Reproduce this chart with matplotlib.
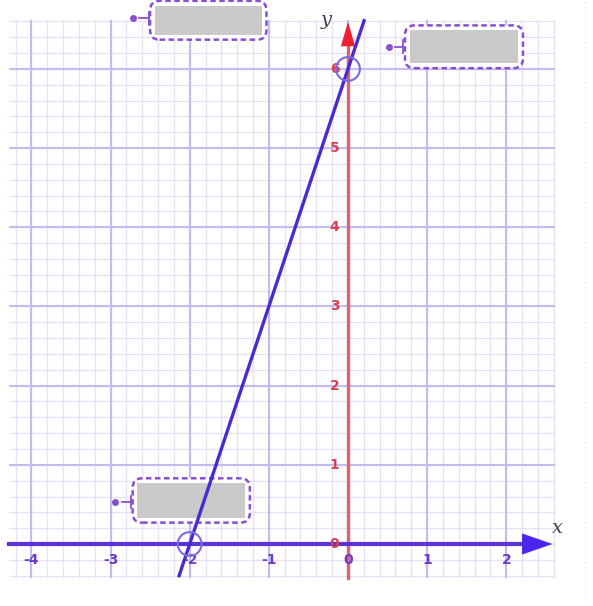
import matplotlib.pyplot as plt
import numpy as np
from matplotlib.patches import FancyBboxPatch, Rectangle, Circle

# data
x_ticks = [-4, -3, -2, -1, 0, 1, 2]
y_ticks = [0, 1, 2, 3, 4, 5, 6]
line_x = [-2.14, 0.21]
line_y = [-0.42, 6.63]
marked_x = [-2, 0]
marked_y = [0, 6]
# hidden answer boxes: (x0, y0, x1, y1)
boxes = [(-2.44, 6.43, -1.09, 6.80), (0.78, 6.07, 2.15, 6.49), (-2.66, 0.33, -1.30, 0.77)]
dots = [(-2.72, 6.64), (0.52, 6.28), (-2.94, 0.53)]

grid_x = (-4.28, 2.62)
grid_y = (-0.43, 6.62)

fig = plt.figure(figsize=(5.93, 6.06), dpi=100)
ax = fig.add_axes([0, 0, 1, 1])
ax.set_xlim(-4.396, 3.095)
ax.set_ylim(-0.783, 6.871)
ax.axis('off')

# grid
minor_x = np.arange(-4.2, 2.61, 0.2)
minor_y = np.arange(-0.4, 6.61, 0.2)
ax.vlines(minor_x, grid_y[0], grid_y[1], color='#e6e2f6', lw=1.0, zorder=1)
ax.hlines(minor_y, grid_x[0], grid_x[1], color='#e6e2f6', lw=1.0, zorder=1)
ax.vlines(x_ticks, grid_y[0], grid_y[1], color='#c4bcee', lw=1.5, zorder=2)
ax.hlines(y_ticks[1:], grid_x[0], grid_x[1], color='#c4bcee', lw=1.5, zorder=2)

# page edge
ax.vlines(3.0, -0.75, 6.85, color='#dddddd', lw=0.8, ls=(0, (1, 3)), zorder=1)

# axes
ax.plot([0, 0], [grid_y[0], 6.4], color='#e5606e', lw=2.4, zorder=4)
ax.annotate('', xy=(0, 6.63), xytext=(0, 6.2),
            arrowprops=dict(arrowstyle='-|>,head_width=0.32,head_length=1.1', color='#ee2030',
                            lw=0, mutation_scale=16), zorder=5)
ax.plot([grid_x[0], 2.4], [0, 0], color='#5a34d8', lw=3, zorder=4)
ax.annotate('', xy=(2.62, 0), xytext=(2.2, 0),
            arrowprops=dict(arrowstyle='-|>,head_width=0.38,head_length=1.1', color='#4a26ee',
                            lw=0, mutation_scale=20), zorder=5)
ax.text(2.64, 0.2, 'x', fontsize=14, family='DejaVu Serif', style='italic', color='#444444', ha='center', va='center')
ax.text(-0.27, 6.62, 'y', fontsize=14, family='DejaVu Serif', style='italic', color='#444444', ha='center', va='center')

# tick labels
for t in x_ticks:
    ax.text(t, -0.2, str(t), fontsize=10, fontweight='bold', color='#6a3cc8', ha='center', va='center', zorder=6)
for t in y_ticks:
    ax.text(-0.17, t, str(t), fontsize=10, fontweight='bold', color='#d8404e', ha='center', va='center', zorder=6)

# answer boxes
for (x0, y0, x1, y1), (dx, dy) in zip(boxes, dots):
    ax.add_patch(FancyBboxPatch((x0, y0), x1 - x0, y1 - y0, boxstyle='round,pad=0.06,rounding_size=0.12',
                                fc='white', ec='#8a4fd0', lw=1.8, ls=(0, (2.2, 1.4)), zorder=9))
    ax.add_patch(Rectangle((x0, y0), x1 - x0, y1 - y0, fc='#c8c8c8', ec='none', zorder=10, alpha=0.95))
    ax.plot([dx], [dy], 'o', color='#8a4fd0', ms=4, zorder=10)
    ax.plot([dx + 0.08, x0 - 0.08], [dy, dy], color='#8a4fd0', lw=1.3, zorder=10)
    ax.plot([x0 - 0.08, x0 - 0.08], [dy - 0.08, dy + 0.08], color='#8a4fd0', lw=1.3, zorder=10)

# the line
ax.plot(line_x, line_y, color='#4a2ad0', lw=2.4, zorder=11, solid_capstyle='butt')
for mx, my in zip(marked_x, marked_y):
    ax.add_patch(Circle((mx, my), 0.15, fill=False, ec='#7a6ae0', lw=1.5, zorder=12))

fig.savefig('out.png', dpi=100)
